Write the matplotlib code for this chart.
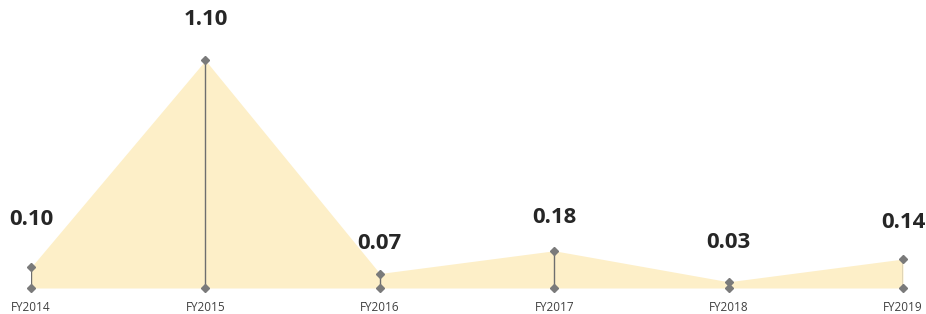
import matplotlib.pyplot as plt
import numpy as np

# Data
years = ["FY2014", "FY2015", "FY2016", "FY2017", "FY2018", "FY2019"]
values = [0.10, 1.10, 0.07, 0.18, 0.03, 0.14]
label_offsets = [34.5, 29.5, 21.5, 24, 28.5, 26.5]  # points, marker -> label centre


def main():
    fig = plt.figure(figsize=(9.26, 3.14), dpi=100)
    ax = fig.add_axes([31 / 926, 26 / 314, 872 / 926, 288 / 314])

    x = np.arange(len(years))
    ax.fill_between(x, 0, values, color="#fdefc8", linewidth=0, zorder=1)

    # drop lines with diamond ends
    ax.vlines(x, 0, values, color="#6e6e6e", linewidth=1, zorder=2)
    ax.plot(x, values, linestyle="none", marker="D", markersize=4.5,
            color="#7a7a7a", clip_on=False, zorder=3)
    ax.plot(x, [0] * len(x), linestyle="none", marker="D", markersize=4.5,
            color="#7a7a7a", clip_on=False, zorder=3)

    for xi, v, off in zip(x, values, label_offsets):
        ax.annotate(f"{v:.2f}", (xi, v), xytext=(0, off), textcoords="offset points",
                    ha="center", va="center", fontsize=16, fontweight="bold",
                    family="Open Sans", color="#262626", annotation_clip=False)

    ax.set_xlim(0, len(years) - 1)
    ax.set_ylim(0, 288 / 207)
    ax.set_xticks(x)
    ax.set_xticklabels(years, fontsize=8.5, color="#404040", family="Open Sans")
    ax.tick_params(axis="x", length=0, pad=9.5)
    ax.set_yticks([])
    for s in ax.spines.values():
        s.set_visible(False)

    fig.savefig("out.png", dpi=100)


main()
